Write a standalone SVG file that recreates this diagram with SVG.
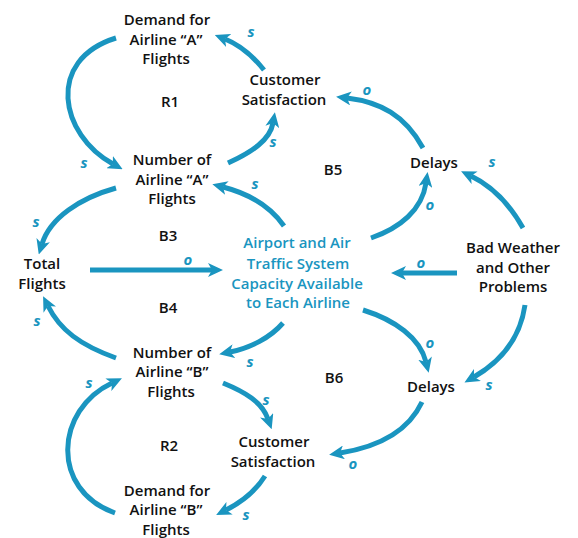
<svg xmlns="http://www.w3.org/2000/svg" width="578" height="538" viewBox="0 0 578 538">
<style>
.t{font-family:"Open Sans","Liberation Sans",sans-serif;font-size:15px;font-weight:600;fill:#111;text-anchor:middle}
.b{fill:#1a95c0}
.lp{font-family:"Open Sans","Liberation Sans",sans-serif;font-size:15px;font-weight:bold;font-style:italic;fill:#1a95c0;text-anchor:middle}
.line{fill:none;stroke:#1a95c0;stroke-width:5;marker-end:url(#ah)}
</style>
<defs>
<marker id="ah" markerUnits="userSpaceOnUse" markerWidth="15" markerHeight="14" viewBox="0 0 15 14" refX="4" refY="7" orient="auto">
<path d="M0,0 L15,7 L0,14 L4,7 z" fill="#1a95c0"/>
</marker>
</defs>
<rect width="578" height="538" fill="#fff"/>
<g id="connectors">
<path class="line" d="M116,38 C45,60 60,135 113,164"/>
<path class="line" d="M228,163 C252,152 270,140 273,123"/>
<path class="line" d="M264,70 C252,55 240,45 225,39"/>
<path class="line" d="M423,148 C405,115 380,102 347,98"/>
<path class="line" d="M371,238 C400,228 422,210 426,183"/>
<path class="line" d="M523,228 C510,205 492,186 471,176"/>
<path class="line" d="M284,226 C270,206 250,194 223,187"/>
<path class="line" d="M116,188 C80,198 50,218 42,244"/>
<path class="line" d="M90,270 L212,270"/>
<path class="line" d="M457,273 L402,273"/>
<path class="line" d="M116,358 C80,345 60,330 48,306"/>
<path class="line" d="M283,323 C270,338 250,348 230,352"/>
<path class="line" d="M363,310 C395,320 420,338 426,362"/>
<path class="line" d="M525,305 C520,340 500,362 474,377"/>
<path class="line" d="M223,383 C245,392 262,402 268,419"/>
<path class="line" d="M422,402 C408,432 378,447 340,453"/>
<path class="line" d="M265,476 C255,492 242,502 226,510"/>
<path class="line" d="M115,513 C50,490 55,410 112,383"/>
</g>
<g id="polarities">
<text class="lp" x="84" y="168">s</text>
<text class="lp" x="273" y="147">s</text>
<text class="lp" x="251" y="37">s</text>
<text class="lp" x="367" y="95">o</text>
<text class="lp" x="430" y="210">o</text>
<text class="lp" x="492" y="167">s</text>
<text class="lp" x="255" y="189">s</text>
<text class="lp" x="36" y="227">s</text>
<text class="lp" x="188" y="265">o</text>
<text class="lp" x="421" y="268">o</text>
<text class="lp" x="37" y="326">s</text>
<text class="lp" x="250" y="367">s</text>
<text class="lp" x="430" y="348">o</text>
<text class="lp" x="489" y="390">s</text>
<text class="lp" x="266" y="405">s</text>
<text class="lp" x="353" y="469">o</text>
<text class="lp" x="246" y="520">s</text>
<text class="lp" x="89" y="388">s</text>
</g>
<g id="loops">
<text class="t" x="170" y="107">R1</text>
<text class="t" x="333" y="175">B5</text>
<text class="t" x="168" y="241">B3</text>
<text class="t" x="168" y="313">B4</text>
<text class="t" x="334" y="383">B6</text>
<text class="t" x="169" y="451">R2</text>
</g>
<g id="demandA"><text class="t" x="167" y="25">Demand for</text><text class="t" x="166" y="45">Airline “A”</text><text class="t" x="166" y="64">Flights</text></g>
<g id="csA"><text class="t" x="285" y="85">Customer</text><text class="t" x="284" y="105">Satisfaction</text></g>
<g id="numA"><text class="t" x="172" y="165">Number of</text><text class="t" x="172" y="185">Airline “A”</text><text class="t" x="172" y="204">Flights</text></g>
<g id="delaysA"><text class="t" x="434" y="168">Delays</text></g>
<g id="total"><text class="t" x="42" y="269">Total</text><text class="t" x="42" y="289">Flights</text></g>
<g id="capacity"><text class="t b" x="297" y="248">Airport and Air</text><text class="t b" x="298" y="269">Traffic System</text><text class="t b" x="297" y="289">Capacity Available</text><text class="t b" x="298" y="308">to Each Airline</text></g>
<g id="weather"><text class="t" x="513" y="253">Bad Weather</text><text class="t" x="513" y="273">and Other</text><text class="t" x="513" y="292">Problems</text></g>
<g id="numB"><text class="t" x="172" y="358">Number of</text><text class="t" x="172" y="377">Airline “B”</text><text class="t" x="171" y="397">Flights</text></g>
<g id="delaysB"><text class="t" x="431" y="392">Delays</text></g>
<g id="csB"><text class="t" x="274" y="447">Customer</text><text class="t" x="273" y="467">Satisfaction</text></g>
<g id="demandB"><text class="t" x="167" y="496">Demand for</text><text class="t" x="166" y="515">Airline “B”</text><text class="t" x="166" y="535">Flights</text></g>
</svg>
